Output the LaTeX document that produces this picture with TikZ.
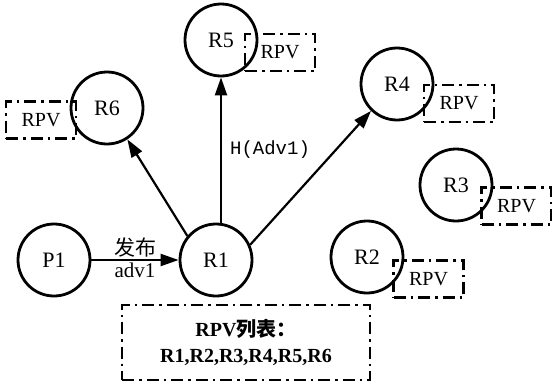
\documentclass[tikz,border=0pt]{standalone}
\usepackage{fontspec}
\setmainfont{Liberation Serif}
\setmonofont{Liberation Mono}
\newfontfamily\cjk{Noto Sans CJK SC}
\usetikzlibrary{arrows.meta}
\tikzset{
  rnode/.style={circle,draw,line width=2.8pt,minimum size=72pt,inner sep=0pt,font=\fontsize{22}{24}\selectfont},
  rpvbox/.style={draw,line width=2.2pt,dash pattern=on 12pt off 5pt on 2.5pt off 5pt,minimum width=70pt,minimum height=37pt,inner sep=0pt,font=\fontsize{20}{22}\selectfont},
  listbox/.style={draw,line width=2.2pt,dash pattern=on 12pt off 5pt on 2.5pt off 5pt,minimum width=248pt,minimum height=75pt,inner sep=0pt,align=center,font=\fontsize{20}{26}\selectfont\bfseries},
  conn/.style={line width=2.2pt,-{Triangle[length=18pt,width=12pt]}},
  lbl/.style={font=\fontsize{21}{23}\selectfont,inner sep=2pt}
}
\begin{document}
\begin{tikzpicture}[x=1pt,y=-1pt]
\useasboundingbox (0,0) rectangle (552,386);
% RPV boxes
\node[rpvbox] (B5) at (280,52.5) {RPV};
\node[rpvbox] (B6) at (41,120) {RPV};
\node[rpvbox] (B4) at (459,103.5) {RPV};
\node[rpvbox] (B3) at (516.5,206) {RPV};
\node[rpvbox] (B2) at (428.5,279) {RPV};
% circles
\node[rnode] (R5) at (221,40) {R5};
\node[rnode] (R6) at (107,108) {R6};
\node[rnode] (R4) at (397,84) {R4};
\node[rnode] (R3) at (456,185) {R3};
\node[rnode] (R2) at (367,257) {R2};
\node[rnode] (R1) at (216,260) {R1};
\node[rnode] (P1) at (54,260) {P1};
% list box
\node[listbox] (L) at (246,342.5) {RPV{\cjk 列表：}\\R1,R2,R3,R4,R5,R6};
% connectors
\draw[conn] (P1) -- node[lbl,above]{\cjk 发布} node[lbl,below]{adv1} (R1);
\draw[conn] (R5.south |- R1.north) -- node[lbl,right,xshift=6pt,font=\fontsize{19}{21}\ttfamily]{H(Adv1)} (R5.south);
\draw[conn] (R1.140) -- (R6.-57);
\draw[conn] (R1.24) -- (R4.226);
\end{tikzpicture}
\end{document}
